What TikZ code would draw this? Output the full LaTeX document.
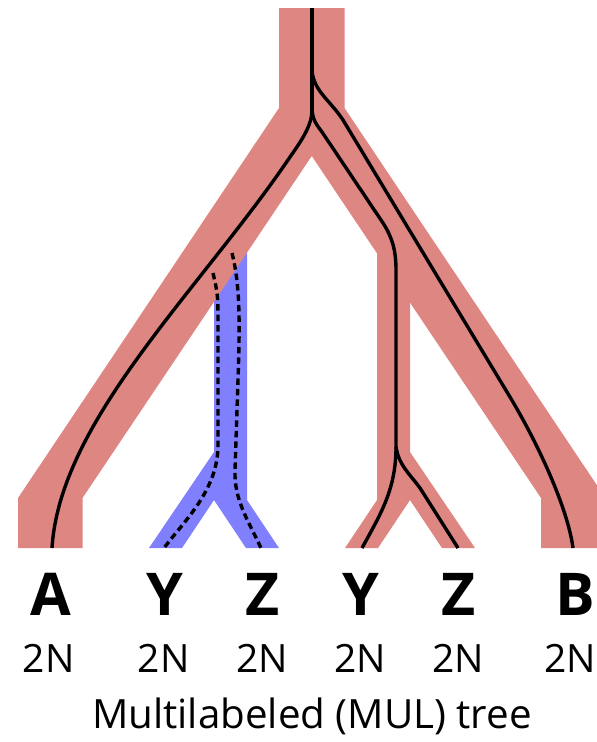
\documentclass[tikz,border=0pt]{standalone}
\usepackage{fontspec}
\setmainfont{Open Sans}
\usetikzlibrary{positioning}
\definecolor{speciespink}{RGB}{221,134,130}
\definecolor{ghostblue}{RGB}{128,128,255}

\begin{document}
\begin{tikzpicture}[
    x=1pt, y=-1pt,
    species/.style={fill=speciespink, draw=none},
    ghost/.style={fill=ghostblue, draw=none},
    gene/.style={line width=3.4pt, black},
    ghostgene/.style={gene, dash pattern=on 6.5pt off 4pt},
    taxon/.style={anchor=base, inner sep=0pt, font=\fontsize{59}{59}\selectfont\bfseries},
    ploidy/.style={anchor=base, inner sep=0pt, font=\fontsize{39}{39}\selectfont},
    caption/.style={anchor=base, inner sep=0pt, font=\fontsize{40.3}{40.3}\selectfont},
  ]
  \useasboundingbox (0,0) rectangle (597,742);
  % ghost lineage, under the species tree
  \fill[ghost] (214,240) -- (214,452) -- (149,548) -- (182,548) -- (214,500) -- (246,548) -- (279,548) -- (247,500) -- (247,240) -- cycle;
  % species tree
  \fill[species] (279,8) -- (344.5,8) -- (344.5,108) -- (597,485.3) -- (597,548) -- (541,548) -- (541,498) -- (311.75,156) -- (82.5,498) -- (82.5,548) -- (18,548) -- (18,498) -- (279,108) -- cycle;
  \fill[species] (377,240) -- (377,500) -- (345,548) -- (378,548) -- (410,500) -- (442,548) -- (475,548) -- (410,452) -- (410,240) -- cycle;
  % gene lineages
  \coordinate (root) at (312,8);
  \coordinate (split1) at (312,68);
  \coordinate (split2) at (312,110);
  \coordinate (splitYZ) at (396,447);
  \coordinate (ghostL) at (213,273);
  \coordinate (ghostR) at (232,253);
  \coordinate (footA) at (52,548);
  \coordinate (footYb) at (164,548);
  \coordinate (footZb) at (261,548);
  \coordinate (footYp) at (362,548);
  \coordinate (footZp) at (458,548);
  \coordinate (footB) at (573,548);
  \draw[gene] (root) -- (split2);
  \draw[gene] (split1) .. controls (312,90) and (330,100) .. (343,120) -- (510,397) .. controls (540,447) and (568,510) .. (footB);
  \draw[gene] (split2) .. controls (312,125) and (302,140) .. (290,157) .. controls (200,290) and (60,420) .. (footA);
  \draw[gene] (split2) .. controls (313,120) and (316,124) .. (322,132) -- (383,223) .. controls (392,237) and (396,250) .. (396,270) -- (splitYZ);
  \draw[gene] (splitYZ) .. controls (396,490) and (380,515) .. (footYp);
  \draw[gene] (splitYZ) .. controls (399,465) and (408,472) .. (420,488) -- (footZp);
  \draw[ghostgene] (ghostL) .. controls (218,295) .. (218,330) -- (218,445) .. controls (218,490) and (185,520) .. (footYb);
  \draw[ghostgene] (ghostR) .. controls (240,285) and (240,320) .. (238,380) -- (235,470) .. controls (234,500) and (248,520) .. (footZb);
  % labels
  \node[taxon] (A) at (50.6,615) {A};
  \node[taxon] (Yb) at (164.5,615) {Y};
  \node[taxon] (Zb) at (262.6,615) {Z};
  \node[taxon] (Yp) at (361,615) {Y};
  \node[taxon] (Zp) at (458.7,615) {Z};
  \node[taxon] (B) at (575,615) {B};
  \foreach \n/\x in {A/48.7, Yb/163.7, Zb/262, Yp/360, Zp/458, B/570}{
    \node[ploidy] (ploidy\n) at (\x,672) {2N};
  }
  \node[caption] (title) at (312,728) {Multilabeled (MUL) tree};
\end{tikzpicture}
\end{document}
